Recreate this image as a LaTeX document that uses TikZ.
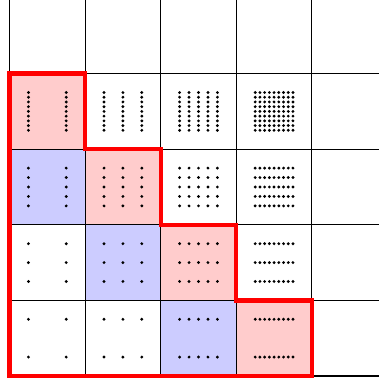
\documentclass[tikz,border=0pt]{standalone}
\usepackage{xcolor}
\usepackage{tikz}
\definecolor{CellPink}{HTML}{FFCCCC}
\definecolor{CellBlue}{HTML}{CCCCFF}
\definecolor{StairRed}{HTML}{FF0000}

\begin{document}
\begin{tikzpicture}[x=1cm,y=1cm]
\clip (-0.126,-0.093) rectangle (4.887,4.974);
% diagonal and sub-diagonal blocks
\fill[CellPink] (0,3) rectangle (1,4);
\fill[CellPink] (1,2) rectangle (2,3);
\fill[CellPink] (2,1) rectangle (3,2);
\fill[CellPink] (3,0) rectangle (4,1);
\fill[CellBlue] (0,2) rectangle (1,3);
\fill[CellBlue] (1,1) rectangle (2,2);
\fill[CellBlue] (2,0) rectangle (3,1);
\draw[line width=0.4pt] (0,0) grid (5,5);
% sample points, 2/3/5/9 per direction
\foreach \nx [count=\c from 0] in {2,3,5,9}
  \foreach \ny [count=\r from 0] in {2,3,5,9}
    \foreach \i in {1,...,\nx}
      \foreach \j in {1,...,\ny}
        \fill ({\c+0.25+0.5*(\i-1)/(\nx-1)},{\r+0.25+0.5*(\j-1)/(\ny-1)}) circle (0.6pt);
\draw[StairRed,line width=1.6pt] (0,4) -- (1,4) -- (1,3) -- (2,3) -- (2,2) -- (3,2)
  -- (3,1) -- (4,1) -- (4,0) -- (0,0) -- cycle;
\end{tikzpicture}
\end{document}
